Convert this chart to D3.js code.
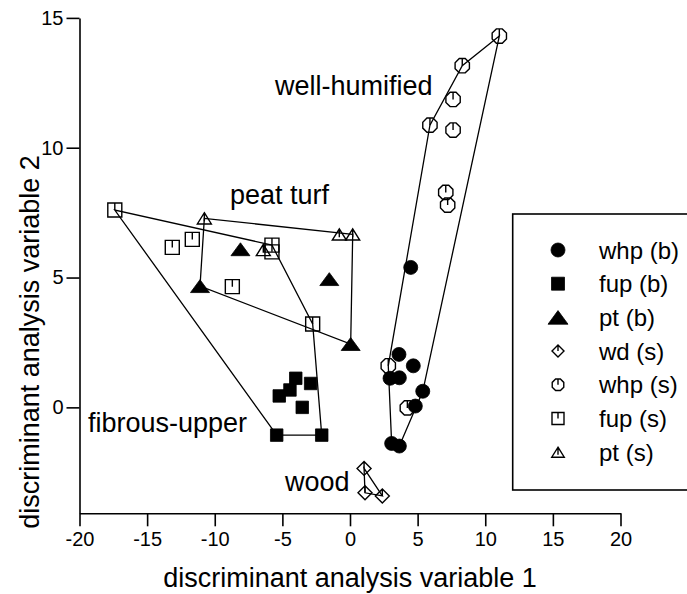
<!DOCTYPE html>
<html>
<head>
<meta charset="utf-8">
<script src="https://cdn.jsdelivr.net/npm/d3@7"></script>
<style>
  html, body { margin: 0; padding: 0; background: #fff; }
  svg { display: block; font-family: "Liberation Sans", Arial, Helvetica, sans-serif; }
</style>
</head>
<body>
<svg id="chart" width="687" height="594"></svg>
<script>
// Discriminant scores: bulk (b) and surface (s) samples per peat type
const whpB = [[4.49,5.39],[3.62,2.04],[4.68,1.60],[2.96,1.12],[3.65,1.14],[5.38,0.62],[4.83,0.05],[3.08,-1.39],[3.65,-1.49]];
const fupB = [[-4.01,1.12],[-2.91,0.92],[-4.44,0.67],[-5.23,0.44],[-3.53,0.0],[-5.42,-1.07],[-2.09,-1.07]];
const ptB  = [[-8.10,6.09],[-11.09,4.67],[-1.53,4.94],[0.05,2.44]];
const wdS  = [[1.04,-2.35],[1.11,-3.29],[2.39,-3.41]];
const whpS = [[11.04,14.30],[8.30,13.16],[7.62,11.86],[5.91,10.87],[7.62,10.68],[7.08,8.28],[7.22,7.79],[2.83,1.60],[4.24,-0.02]];
const fupS = [[-17.39,7.60],[-11.66,6.47],[-13.14,6.16],[-5.77,6.25],[-5.77,5.99],[-8.70,4.65],[-2.76,3.21]];
const ptS  = [[-10.77,7.28],[-0.79,6.66],[0.20,6.66],[-6.41,6.06]];

const xTicks = [-20,-15,-10,-5,0,5,10,15,20];
const xTickLabels = ["-20","-15","-10","-5","0","5","10","15","20"];
const yTicks = [0,5,10,15];
const yTickLabels = ["0","5","10","15"];

const legendNames = ["whp (b)","fup (b)","pt (b)","wd (s)","whp (s)","fup (s)","pt (s)"];
const groupNames = ["well-humified","peat turf","fibrous-upper","wood"];
const groupAnchors = [[-5.55,12.03],[-8.87,7.83],[-19.37,-0.94],[-4.81,-3.22]];

const svg = d3.select("#chart");
const x = d3.scaleLinear().domain([-20, 20]).range([79.5, 620.5]);
const y = d3.scaleLinear().domain([-4.08, 15]).range([513.3, 17.9]);

// Axes
const xAxis = svg.append("g")
  .attr("transform", `translate(0,${y(-4.08)})`)
  .call(d3.axisBottom(x).tickValues(xTicks).tickSize(13).tickSizeOuter(0)
    .tickFormat((d, i) => xTickLabels[i]));
const yAxis = svg.append("g")
  .attr("transform", `translate(${x(-20)},0)`)
  .call(d3.axisLeft(y).tickValues(yTicks).tickSize(13).tickSizeOuter(0)
    .tickFormat((d, i) => yTickLabels[i]));
[xAxis, yAxis].forEach(g => {
  g.select(".domain").attr("stroke", "#000").attr("stroke-width", 1.6);
  g.selectAll(".tick line").attr("stroke", "#000").attr("stroke-width", 1.6);
  g.selectAll(".tick text").attr("fill", "#000").style("font-size", "20px")
    .style("font-family", "'Liberation Sans', Arial, sans-serif");
});
xAxis.selectAll(".tick text").attr("dy", "0.71em").attr("y", 19);
yAxis.selectAll(".tick text").attr("x", -16);

svg.append("text").attr("x", 350).attr("y", 587).attr("text-anchor", "middle")
  .style("font-size", "27px").text("discriminant analysis variable 1");
svg.append("text").attr("transform", "translate(39,342) rotate(-90)")
  .attr("text-anchor", "middle").style("font-size", "27px")
  .text("discriminant analysis variable 2");

// Group hulls
const hullGroups = [whpB.concat(whpS), fupB.concat(fupS), ptB.concat(ptS), wdS];
hullGroups.forEach(pts => {
  const hull = d3.polygonHull(pts.map(p => [x(p[0]), y(p[1])]));
  svg.append("path")
    .attr("d", "M" + hull.join("L") + "Z")
    .attr("fill", "none").attr("stroke", "#000").attr("stroke-width", 1.3);
});

// Marker shapes
function octagon(r) {
  const pts = d3.range(8).map(k => {
    const a = Math.PI / 8 + k * Math.PI / 4;
    return [r * Math.cos(a), r * Math.sin(a)];
  });
  return "M" + pts.join("L") + "Z";
}
const shapes = {
  circleF: s => ({ d: d3.arc()({innerRadius:0, outerRadius:s/2, startAngle:0, endAngle:2*Math.PI}), fill: true }),
  squareF: s => ({ d: `M${-s/2},${-s/2}h${s}v${s}h${-s}Z`, fill: true }),
  triF: s => ({ d: `M0,${-s*0.34}L${s/2},${s*0.34}L${-s/2},${s*0.34}Z`, fill: true }),
  diamondO: s => ({ d: `M0,${-s/2}L${s/2},0L0,${s/2}L${-s/2},0ZM0,${-s/2}L0,0`, fill: false }),
  octO: s => ({ d: octagon(s/2) + `M0,${-s/2*Math.cos(Math.PI/8)}L0,0`, fill: false }),
  squareO: s => ({ d: `M${-s/2},${-s/2}h${s}v${s}h${-s}ZM0,${-s/2}L0,0`, fill: false }),
  triO: s => ({ d: `M0,${-s*0.4}L${s/2},${s*0.4}L${-s/2},${s*0.4}ZM0,${-s*0.4}L0,${s*0.2}`, fill: false })
};

const series = [
  { data: whpS, shape: "octO", size: 15.5 },
  { data: fupS, shape: "squareO", size: 14 },
  { data: ptS, shape: "triO", size: 14 },
  { data: wdS, shape: "diamondO", size: 14 },
  { data: whpB, shape: "circleF", size: 14 },
  { data: fupB, shape: "squareF", size: 12.5 },
  { data: ptB, shape: "triF", size: 19 }
];
series.forEach(sr => {
  const sh = shapes[sr.shape](sr.size);
  svg.append("g").selectAll("path").data(sr.data).join("path")
    .attr("transform", d => `translate(${x(d[0])},${y(d[1])})`)
    .attr("d", sh.d)
    .attr("fill", sh.fill ? "#000" : "none")
    .attr("stroke", "#000")
    .attr("stroke-width", sh.fill ? 0.8 : 1.4);
});

// Group labels
svg.append("g").selectAll("text").data(groupNames).join("text")
  .attr("x", (d, i) => x(groupAnchors[i][0]))
  .attr("y", (d, i) => y(groupAnchors[i][1]))
  .style("font-size", "27px").text(d => d);

// Legend
const legend = svg.append("g");
legend.append("rect").attr("x", 512.7).attr("y", 214).attr("width", 200).attr("height", 276)
  .attr("fill", "#fff").attr("stroke", "#000").attr("stroke-width", 1.6);
const legendShapes = [["circleF",14],["squareF",13],["triF",20],["diamondO",12],["octO",12.5],["squareO",12],["triO",12.5]];
legendNames.forEach((name, i) => {
  const cy = 250 + i * 33.7;
  const sh = shapes[legendShapes[i][0]](legendShapes[i][1]);
  legend.append("path").attr("transform", `translate(558,${cy})`).attr("d", sh.d)
    .attr("fill", sh.fill ? "#000" : "none").attr("stroke", "#000")
    .attr("stroke-width", sh.fill ? 0.8 : 1.4);
  legend.append("text").attr("x", 599).attr("y", cy).attr("dy", "0.36em")
    .style("font-size", "24px").text(name);
});
</script>
</body>
</html>
